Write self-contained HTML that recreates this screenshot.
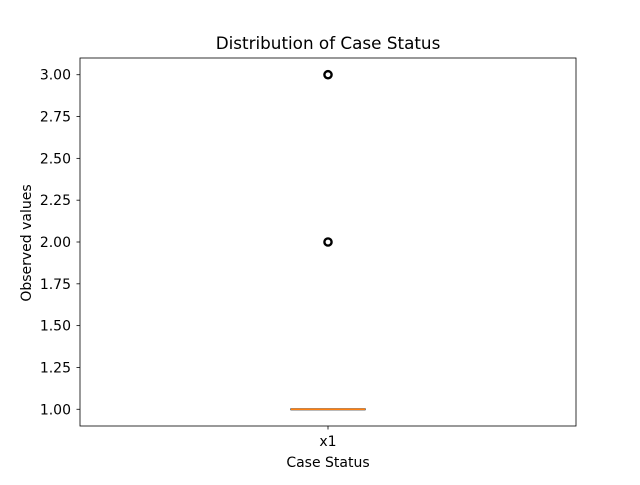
<!DOCTYPE html>
<html><head><meta charset="utf-8"><style>
body{margin:0;background:#fff}
svg text{font-family:"DejaVu Sans","Liberation Sans",sans-serif;fill:#000}
</style></head><body>
<svg width="640" height="480" viewBox="0 0 640 480">
<rect width="640" height="480" fill="#fff"/>
<g id="plot"></g>
<text x="328" y="49" font-size="16.8" text-anchor="middle">Distribution of Case Status</text>
<text x="328" y="467" font-size="14" text-anchor="middle">Case Status</text>
<text transform="translate(31,243) rotate(-90)" font-size="14" text-anchor="middle">Observed values</text>
</svg>
<script>
const yTicks=[1.00,1.25,1.50,1.75,2.00,2.25,2.50,2.75,3.00];
const categories=["x1"];
const q1=[1],median=[1],q3=[1],whiskLo=[1],whiskHi=[1];
const fliers=[[2,3]];
const L=80,R=576,T=58,B=426,ymin=0.9,ymax=3.1;
const y=v=>B-(v-ymin)/(ymax-ymin)*(B-T);
const x=i=>L+(i+1)/(categories.length+1)*(R-L);
const g=document.getElementById('plot');
const NS='http://www.w3.org/2000/svg';
function mk(t,a){const e=document.createElementNS(NS,t);for(const k in a)e.setAttribute(k,a[k]);g.appendChild(e);return e;}
yTicks.forEach(v=>{
 const t=mk('line',{x1:L-3.5,x2:L,y1:y(v),y2:y(v),stroke:'#000','stroke-width':0.8});
 
 
 const l=mk('text',{x:L-9,y:y(v)+5,'font-size':14,'text-anchor':'end'});l.textContent=v.toFixed(2);
 
 
});
categories.forEach((c,i)=>{
 const cx=x(i),hw=37;
 const t=mk('line',{x1:cx,x2:cx,y1:B,y2:B+3.5,stroke:'#000','stroke-width':0.8});
 
 
 const l=mk('text',{x:cx,y:B+20,'font-size':14,'text-anchor':'middle'});l.textContent=c;
 
 
 const b=mk('rect',{x:cx-hw,y:y(q3[i])-0.5,width:2*hw,height:Math.max(y(q1[i])-y(q3[i]),0)+1,fill:'none',stroke:'#000','stroke-width':1});
 
 
 const w1=mk('line',{x1:cx-hw/2,x2:cx+hw/2,y1:y(whiskHi[i]),y2:y(whiskHi[i]),stroke:'#000'});
 
 
 const m=mk('line',{x1:cx-hw,x2:cx+hw,y1:y(median[i]),y2:y(median[i]),stroke:'#ff7f0e','stroke-width':1.5});
 
 
 fliers[i].forEach(v=>{
  const o=mk('circle',{cx:cx,cy:y(v),r:3.6,fill:'none',stroke:'#000','stroke-width':2.4});
  
  
 });
});
const f=mk('rect',{x:L,y:T,width:R-L,height:B-T,fill:'none',stroke:'#000','stroke-width':0.8});


</script>
</body></html>
